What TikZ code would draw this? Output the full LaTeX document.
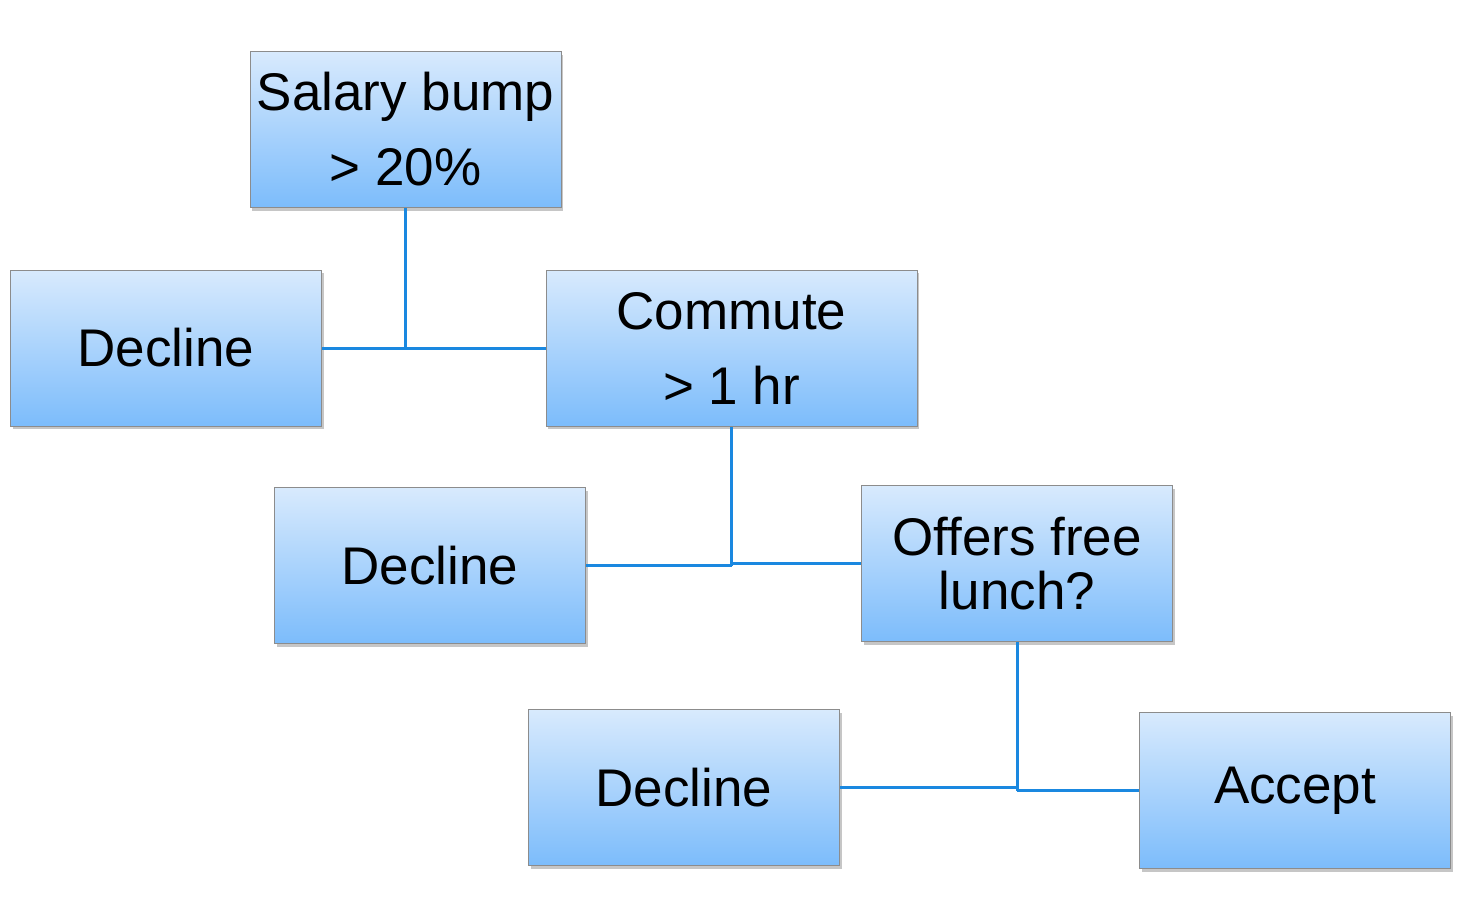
\documentclass[tikz,border=0pt]{standalone}
\usepackage{fontspec}
\setmainfont{Liberation Sans}
\usetikzlibrary{shadows}
\definecolor{boxtop}{HTML}{D8EAFD}
\definecolor{boxbot}{HTML}{7CBCFB}
\definecolor{boxline}{HTML}{8C8C8C}
\definecolor{link}{HTML}{1A88E0}
\tikzset{
  box/.style={draw=boxline, line width=1pt, top color=boxtop, bottom color=boxbot,
    minimum width=311pt, minimum height=156pt, inner sep=0pt, align=center,
    font=\fontsize{53}{75}\selectfont,
    drop shadow={shadow xshift=2pt, shadow yshift=-3pt, opacity=0.45}},
  link/.style={draw=link, line width=3pt}
}
\begin{document}
\begin{tikzpicture}[x=1pt,y=-1pt]
\useasboundingbox (0,0) rectangle (1459,916);
\node[box] (sal) at (405.5,129.5) {Salary bump\\> 20\%};
\node[box] (d1) at (166,348) {Decline};
\node[box, minimum width=371pt] (com) at (731.5,348) {Commute\\> 1 hr};
\node[box] (d2) at (430,565.5) {Decline};
\node[box, font=\fontsize{53}{54}\selectfont] (off) at (1017,563.5) {Offers free\\lunch?};
\node[box] (d3) at (684,787.5) {Decline};
\node[box] (acc) at (1295,790.5) {Accept};
% connectors
\draw[link] (sal.south) -- (sal.south |- d1.east);
\draw[link] (d1.east) -- (com.west);
\draw[link] (com.south) -- (com.south |- d2.east);
\draw[link] (d2.east) -- (com.south |- d2.east);
\draw[link] (com.south |- off.west) -- (off.west);
\draw[link] (off.south) -- (off.south |- acc.west);
\draw[link] (d3.east) -- (off.south |- d3.east);
\draw[link] (off.south |- acc.west) -- (acc.west);
\end{tikzpicture}
\end{document}
